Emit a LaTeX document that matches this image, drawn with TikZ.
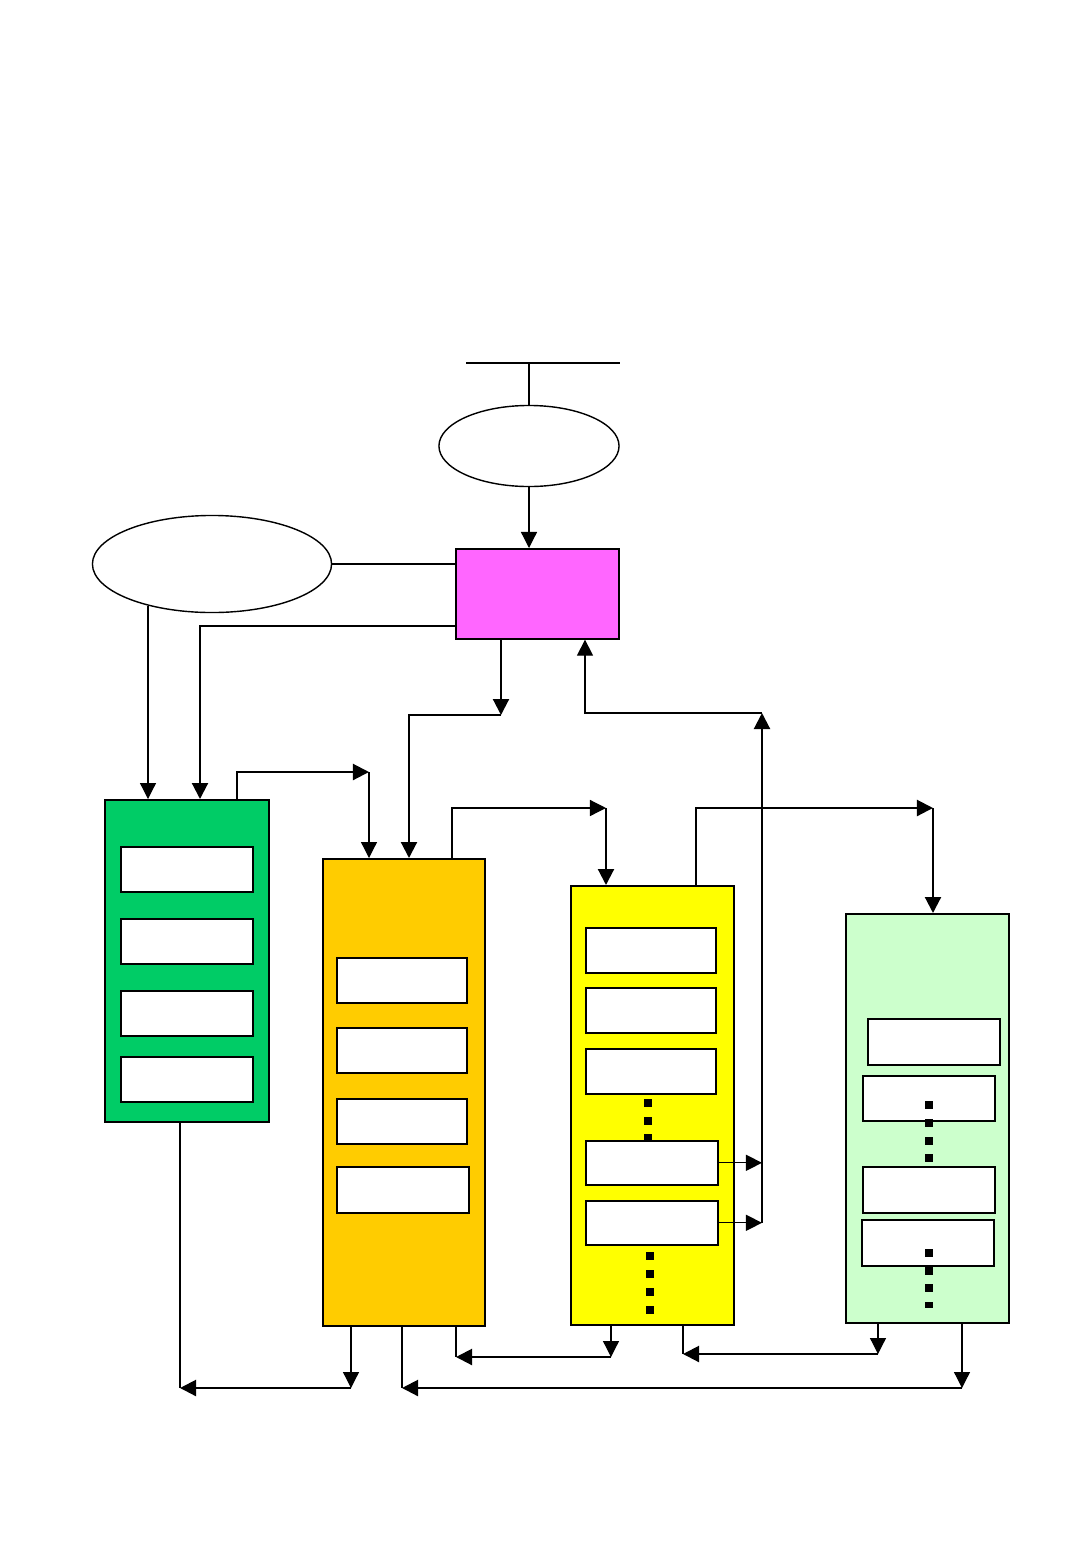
\documentclass[tikz,border=0pt]{standalone}
\usepackage{tikz}
\usetikzlibrary{arrows.meta,shapes.geometric}

\definecolor{ctrlpink}{HTML}{FF66FF}
\definecolor{stagegreen}{HTML}{00CC66}
\definecolor{stageorange}{HTML}{FFCC00}
\definecolor{stageyellow}{HTML}{FFFF00}
\definecolor{stagemint}{HTML}{CCFFCC}

\begin{document}
\begin{tikzpicture}[x=0.01cm, y=-0.01cm, >={Triangle[length=1.6mm, width=1.6mm]}]
  \tikzstyle{stage} = [rectangle, draw, line width=0.45pt, inner sep=0pt, anchor=north west]
  \tikzstyle{unit} = [rectangle, draw, fill=white, line width=0.45pt, inner sep=0pt,
  anchor=north west, minimum width=1.31cm, minimum height=0.45cm]
  \tikzstyle{source} = [ellipse, draw, line width=0.4pt, inner sep=0pt]
  \tikzstyle{thin} = [line width=0.35pt]
  \tikzstyle{thick} = [line width=0.6pt]

  \useasboundingbox (0,0) rectangle (1080,1560);

  % Define nodes
  \node[source, minimum width=1.80cm, minimum height=0.81cm] (input) at (529,446) {};
  \node[source, minimum width=2.39cm, minimum height=0.97cm] (store) at (212,564) {};
  \node[stage, fill=ctrlpink, minimum width=1.63cm, minimum height=0.90cm] (ctrl) at (455,548) {};

  \node[stage, fill=stagegreen, minimum width=1.64cm, minimum height=3.22cm] (s1) at (104,799) {};
  \node[stage, fill=stageorange, minimum width=1.62cm, minimum height=4.67cm] (s2) at (322,858) {};
  \node[stage, fill=stageyellow, minimum width=1.63cm, minimum height=4.39cm] (s3) at (570,885) {};
  \node[stage, fill=stagemint, minimum width=1.63cm, minimum height=4.09cm] (s4) at (845,913) {};

  % units inside the stages
  \foreach \y [count=\i] in {846,918,990,1056}
    \node[unit, minimum width=1.32cm] (s1u\i) at (120,\y) {};
  \foreach \y [count=\i] in {957,1027,1098}
    \node[unit, minimum width=1.30cm] (s2u\i) at (336,\y) {};
  \node[unit, minimum width=1.32cm, minimum height=0.46cm] (s2u4) at (336,1166) {};

  \foreach \y in {1103,1121,1138}
    \fill (644,\y-4) rectangle (652,\y+4);
  \foreach \y [count=\i] in {927,987,1048}
    \node[unit, minimum width=1.30cm] (s3u\i) at (585,\y) {};
  \node[unit, minimum width=1.32cm, minimum height=0.44cm] (s3u4) at (585,1140) {};
  \node[unit, minimum width=1.32cm, minimum height=0.44cm] (s3u5) at (585,1200) {};
  \foreach \y in {1256,1274,1292,1310}
    \fill (646,\y-4) rectangle (654,\y+4);

  \node[unit, minimum width=1.32cm, minimum height=0.46cm] (s4u1) at (867,1018) {};
  \node[unit, minimum width=1.32cm] (s4u2) at (862,1075) {};
  \node[unit, minimum width=1.32cm, minimum height=0.46cm] (s4u3) at (862,1166) {};
  \node[unit, minimum width=1.32cm, minimum height=0.46cm] (s4u4) at (861,1219) {};
  \foreach \y in {1105,1123,1141,1158,1253,1271,1288}
    \fill (925,\y-4) rectangle (933,\y+4);
  \fill (925,1302) rectangle (933,1308);

  % bend points
  \coordinate (busL) at (466,363);
  \coordinate (busR) at (620,363);
  \coordinate (storeout) at (148,606);
  \coordinate (ctrlout) at (457,626);
  \coordinate (j12) at (369,772);
  \coordinate (jc) at (501,715);
  \coordinate (j23) at (606,808);
  \coordinate (j34) at (933,808);
  \coordinate (fb) at (762,713);
  \coordinate (b1) at (180,1388);
  \coordinate (b1r) at (351,1388);
  \coordinate (b2) at (402,1388);
  \coordinate (b2r) at (962,1388);
  \coordinate (b3) at (456,1357);
  \coordinate (b3r) at (611,1357);
  \coordinate (b4) at (683,1354);
  \coordinate (b4r) at (878,1354);

  % top
  \draw[thick] (busL) -- (busR);
  \draw[thin] (input.north) -- (input.north |- busL);
  \draw[thin, ->] (input.south) -- (input.south |- ctrl.north);
  \draw[thin] (store.east) -- (store.east -| ctrl.west);
  \draw[thin, ->] (storeout) -- (storeout |- s1.north);
  \draw[thick, ->] (ctrlout) -| (s1.north -| 200,0);

  % forward paths
  \draw[thick, ->] (s1.north -| 237,0) |- (j12);
  \draw[thin, ->] (j12) -- (j12 |- s2.north);
  \draw[thick, ->] (ctrl.south -| jc) -- (jc);
  \draw[thick, ->] (jc) -| (s2.north -| 409,0);
  \draw[thin, ->] (s2.north -| 452,0) |- (j23);
  \draw[thick, ->] (j23) -- (j23 |- s3.north);
  \draw[thick, ->] (s3.north -| 696,0) |- (j34);
  \draw[thick, ->] (j34) -- (j34 |- s4.north);

  % feedback to the control box
  \draw[thin, ->] (s3u4.east) -- (s3u4.east -| fb);
  \draw[thin, ->] (s3u5.east) -- (s3u5.east -| fb);
  \draw[thick, ->] (s3u5.east -| fb) -- (fb);
  \draw[thin, ->] (fb) -| (ctrl.south -| 585,0);

  % bottom returns
  \draw[thin] (s1.south -| b1) -- (b1);
  \draw[thin, ->] (s2.south -| b1r) -- (b1r);
  \draw[thick, ->] (b1r) -- (b1);
  \draw[thin] (s2.south -| b2) -- (b2);
  \draw[thin, ->] (s4.south -| b2r) -- (b2r);
  \draw[thick, ->] (b2r) -- (b2);
  \draw[thin] (s2.south -| b3) -- (b3);
  \draw[thin, ->] (s3.south -| b3r) -- (b3r);
  \draw[thick, ->] (b3r) -- (b3);
  \draw[thin] (s3.south -| b4) -- (b4);
  \draw[thin, ->] (s4.south -| b4r) -- (b4r);
  \draw[thick, ->] (b4r) -- (b4);
\end{tikzpicture}
\end{document}
